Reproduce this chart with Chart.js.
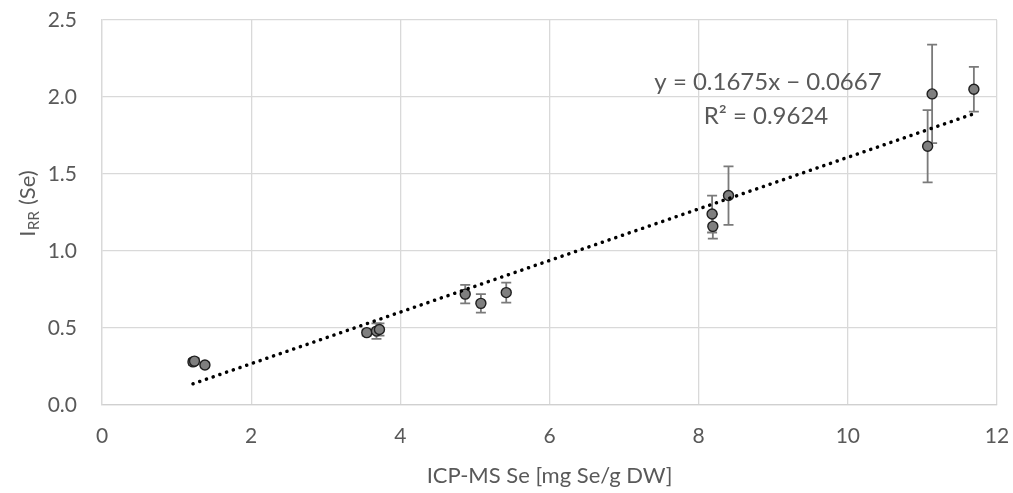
<!DOCTYPE html>
<html>
<head>
<meta charset="utf-8">
<script src="https://cdn.jsdelivr.net/npm/chart.js@4/dist/chart.umd.min.js"></script>
<style>
  html, body { margin: 0; padding: 0; background: #fff; }
  #wrap { width: 1013px; height: 493px; }
</style>
</head>
<body>
<div id="wrap"><canvas id="scatterChart"></canvas></div>
<script>
// values
const icpSe = [1.22, 1.24, 1.38, 3.55, 3.68, 3.72, 4.87, 5.08, 5.42, 8.18, 8.19, 8.40, 11.07, 11.13, 11.69];
const irrSe = [0.28, 0.285, 0.26, 0.47, 0.48, 0.49, 0.72, 0.66, 0.73, 1.24, 1.16, 1.36, 1.68, 2.02, 2.05];
const irrErr = [0.02, 0.02, 0.015, 0.02, 0.05, 0.04, 0.06, 0.06, 0.065, 0.12, 0.08, 0.19, 0.235, 0.32, 0.145];
const slope = 0.1675;
const intercept = -0.0667;
const xTicks = [0, 2, 4, 6, 8, 10, 12];
const yTicks = [0.0, 0.5, 1.0, 1.5, 2.0, 2.5];

const FONT = 'Lato, "Open Sans", sans-serif';
const TXT = '#595959';

const points = icpSe.map((x, i) => ({ x: x, y: irrSe[i], err: irrErr[i] }));
const xMin = Math.min(...icpSe), xMax = Math.max(...icpSe);
const trend = [xMin, xMax].map(x => ({ x: x, y: slope * x + intercept }));

// error bars, drawn with the chart's own scales
const errorBars = {
    id: 'errorBars',
    beforeDatasetsDraw(chart) {
        const ctx = chart.ctx;
        const xs = chart.scales.x, ys = chart.scales.y;
        ctx.save();
        ctx.strokeStyle = '#7a7a7a';
        ctx.lineWidth = 1.8;
        points.forEach(p => {
            const px = xs.getPixelForValue(p.x);
            const top = ys.getPixelForValue(p.y + p.err);
            const bot = ys.getPixelForValue(p.y - p.err);
            ctx.beginPath();
            ctx.moveTo(px, top); ctx.lineTo(px, bot);
            ctx.moveTo(px - 5, top); ctx.lineTo(px + 5, top);
            ctx.moveTo(px - 5, bot); ctx.lineTo(px + 5, bot);
            ctx.stroke();
        });
        ctx.restore();
    }
};

// y title with subscript, equation text
const labels = {
    id: 'labels',
    afterDraw(chart) {
        const ctx = chart.ctx;
        ctx.save();
        ctx.fillStyle = TXT;
        ctx.translate(27, 204);
        ctx.rotate(-Math.PI / 2);
        ctx.textBaseline = 'alphabetic';
        const big = '22px ' + FONT, small = '15px ' + FONT;
        ctx.font = big; const w1 = ctx.measureText('I').width;
        ctx.font = small; const w2 = ctx.measureText('RR').width;
        ctx.font = big; const w3 = ctx.measureText(' (Se)').width;
        let x0 = -(w1 + w2 + w3) / 2;
        ctx.font = big; ctx.fillText('I', x0, 8);
        ctx.font = small; ctx.fillText('RR', x0 + w1 + 0.5, 12);
        ctx.font = big; ctx.fillText(' (Se)', x0 + w1 + w2 + 1, 8);
        ctx.restore();

        ctx.save();
        ctx.fillStyle = TXT;
        ctx.font = '24px ' + FONT;
        ctx.textAlign = 'center';
        ctx.textBaseline = 'middle';
        ctx.fillText('y = 0.1675x \u2212 0.0667', 768, 82);
        ctx.fillText('R\u00b2 = 0.9624', 766, 116);
        ctx.restore();
    }
};

new Chart(document.getElementById('scatterChart'), {
    type: 'scatter',
    data: {
        datasets: [
            {
                label: 'Trend',
                type: 'line',
                data: trend,
                borderColor: '#000',
                borderWidth: 3.5,
                borderDash: [0.1, 7],
                borderCapStyle: 'round',
                pointRadius: 0,
                fill: false,
                order: 0
            },
            {
                label: 'IRR',
                data: points,
                backgroundColor: '#7f7f7f',
                borderColor: '#1f1f1f',
                borderWidth: 1.4,
                pointRadius: 5,
                order: 1
            }
        ]
    },
    options: {
        responsive: true,
        maintainAspectRatio: false,
        animation: false,
        layout: { padding: 0 },
        plugins: { legend: { display: false }, tooltip: { enabled: false } },
        scales: {
            x: {
                type: 'linear',
                min: 0, max: 12,
                afterBuildTicks: s => { s.ticks = xTicks.map(v => ({ value: v })); },
                afterFit: s => { s.height = 88; s.paddingLeft = 0; s.paddingRight = 16; },
                grid: { color: '#d9d9d9', lineWidth: 1.3, drawTicks: false },
                border: { color: '#d0d0d0', width: 1.3 },
                ticks: { color: TXT, font: { family: FONT, size: 21 }, padding: 19 },
                title: { display: true, text: 'ICP-MS Se [mg Se/g DW]', color: TXT, font: { family: FONT, size: 22 }, padding: { top: 10 } }
            },
            y: {
                min: 0, max: 2.5,
                afterBuildTicks: s => { s.ticks = yTicks.map(v => ({ value: v })); },
                afterFit: s => { s.width = 102; s.paddingTop = 20; s.paddingBottom = 0; },
                grid: { color: '#d9d9d9', lineWidth: 1.3, drawTicks: false },
                border: { color: '#d9d9d9', width: 1.3 },
                ticks: { color: TXT, font: { family: FONT, size: 21 }, padding: 25, callback: v => v.toFixed(1) }
            }
        }
    },
    plugins: [errorBars, labels]
});
</script>
</body>
</html>
